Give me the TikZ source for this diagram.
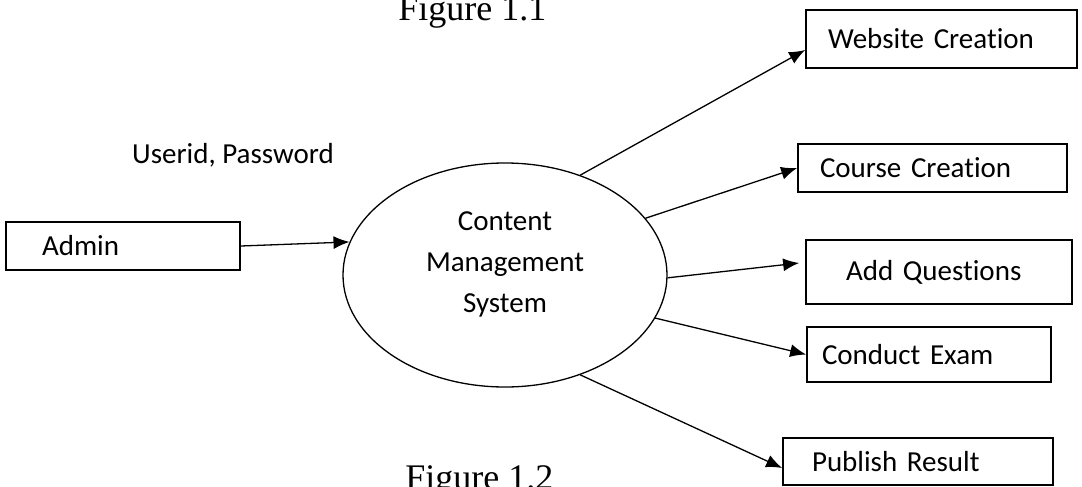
\documentclass[tikz,border=0pt]{standalone}
\usepackage{fontspec}
\setmainfont{Carlito}[Ligatures=NoCommon]
\newfontfamily\capfont{Liberation Serif}
\usetikzlibrary{shapes.geometric,arrows.meta,calc}

\begin{document}
\begin{tikzpicture}[x=0.5pt, y=-0.5pt]

% Fix the page frame
\useasboundingbox (0,0) rectangle (1082,487);
\clip (0,0) rectangle (1082,487);

% Define styles for the process, the boxes and the flows
\tikzstyle{proc} = [ellipse, draw, line width=0.65pt, minimum width=162pt, minimum height=112pt, inner sep=0pt, align=center, font=\fontsize{14.5pt}{20.5pt}\selectfont, text depth=13pt]
\tikzstyle{ent} = [rectangle, draw, line width=0.85pt, align=left, inner ysep=0pt, font=\fontsize{14.5pt}{17pt}\selectfont]
\tikzstyle{flow} = [draw, line width=0.65pt, -{Latex[length=8pt,width=6.5pt]}]
\tikzstyle{figcap} = [font=\capfont\fontsize{18pt}{22pt}\selectfont, inner sep=0pt, anchor=base west]

% Captions
\node[figcap] (fig1) at (398,20) {Figure 1.1};
\node[figcap] (fig2) at (405,489) {Figure 1.2};

% Process
\node[proc] (cms) at (505,275) {Content\\Management\\System};

% Boxes
\node[ent, text width=81pt, inner xsep=18pt, minimum height=24pt] (admin) at (123,246) {Admin};
\node[ent, text width=113.5pt, inner xsep=11pt, minimum height=29pt] (web) at (941.5,39) {Website Creation};
\node[ent, text width=112.5pt, inner xsep=11pt, minimum height=24pt] (course) at (932.5,168) {Course Creation};
\node[ent, text width=93pt, inner xsep=20pt, minimum height=32pt] (addq) at (939,272) {Add Questions};
\node[ent, text width=107pt, inner xsep=7.5pt, minimum height=27.5pt] (exam) at (929,354.5) {Conduct Exam};
\node[ent, text width=106pt, inner xsep=14.5pt, minimum height=23.5pt] (result) at (918,461.5) {Publish Result};

% Flows
\node[font=\fontsize{14.5pt}{17pt}\selectfont] (login) at (233,155) {Userid, Password};
\draw[flow] (admin.east) -- (cms.168);
\draw[flow] (cms.53) -- ($(web.west)+(0,11)$);
\draw[flow] (cms.22) -- (course.west);
\draw[flow] (cms.-1) -- ($(addq.west)+(-6,-9)$);
\draw[flow] (cms.-16) -- (exam.west);
\draw[flow] (cms.-53) -- ($(result.west)+(0,6.5)$);

\end{tikzpicture}
\end{document}
